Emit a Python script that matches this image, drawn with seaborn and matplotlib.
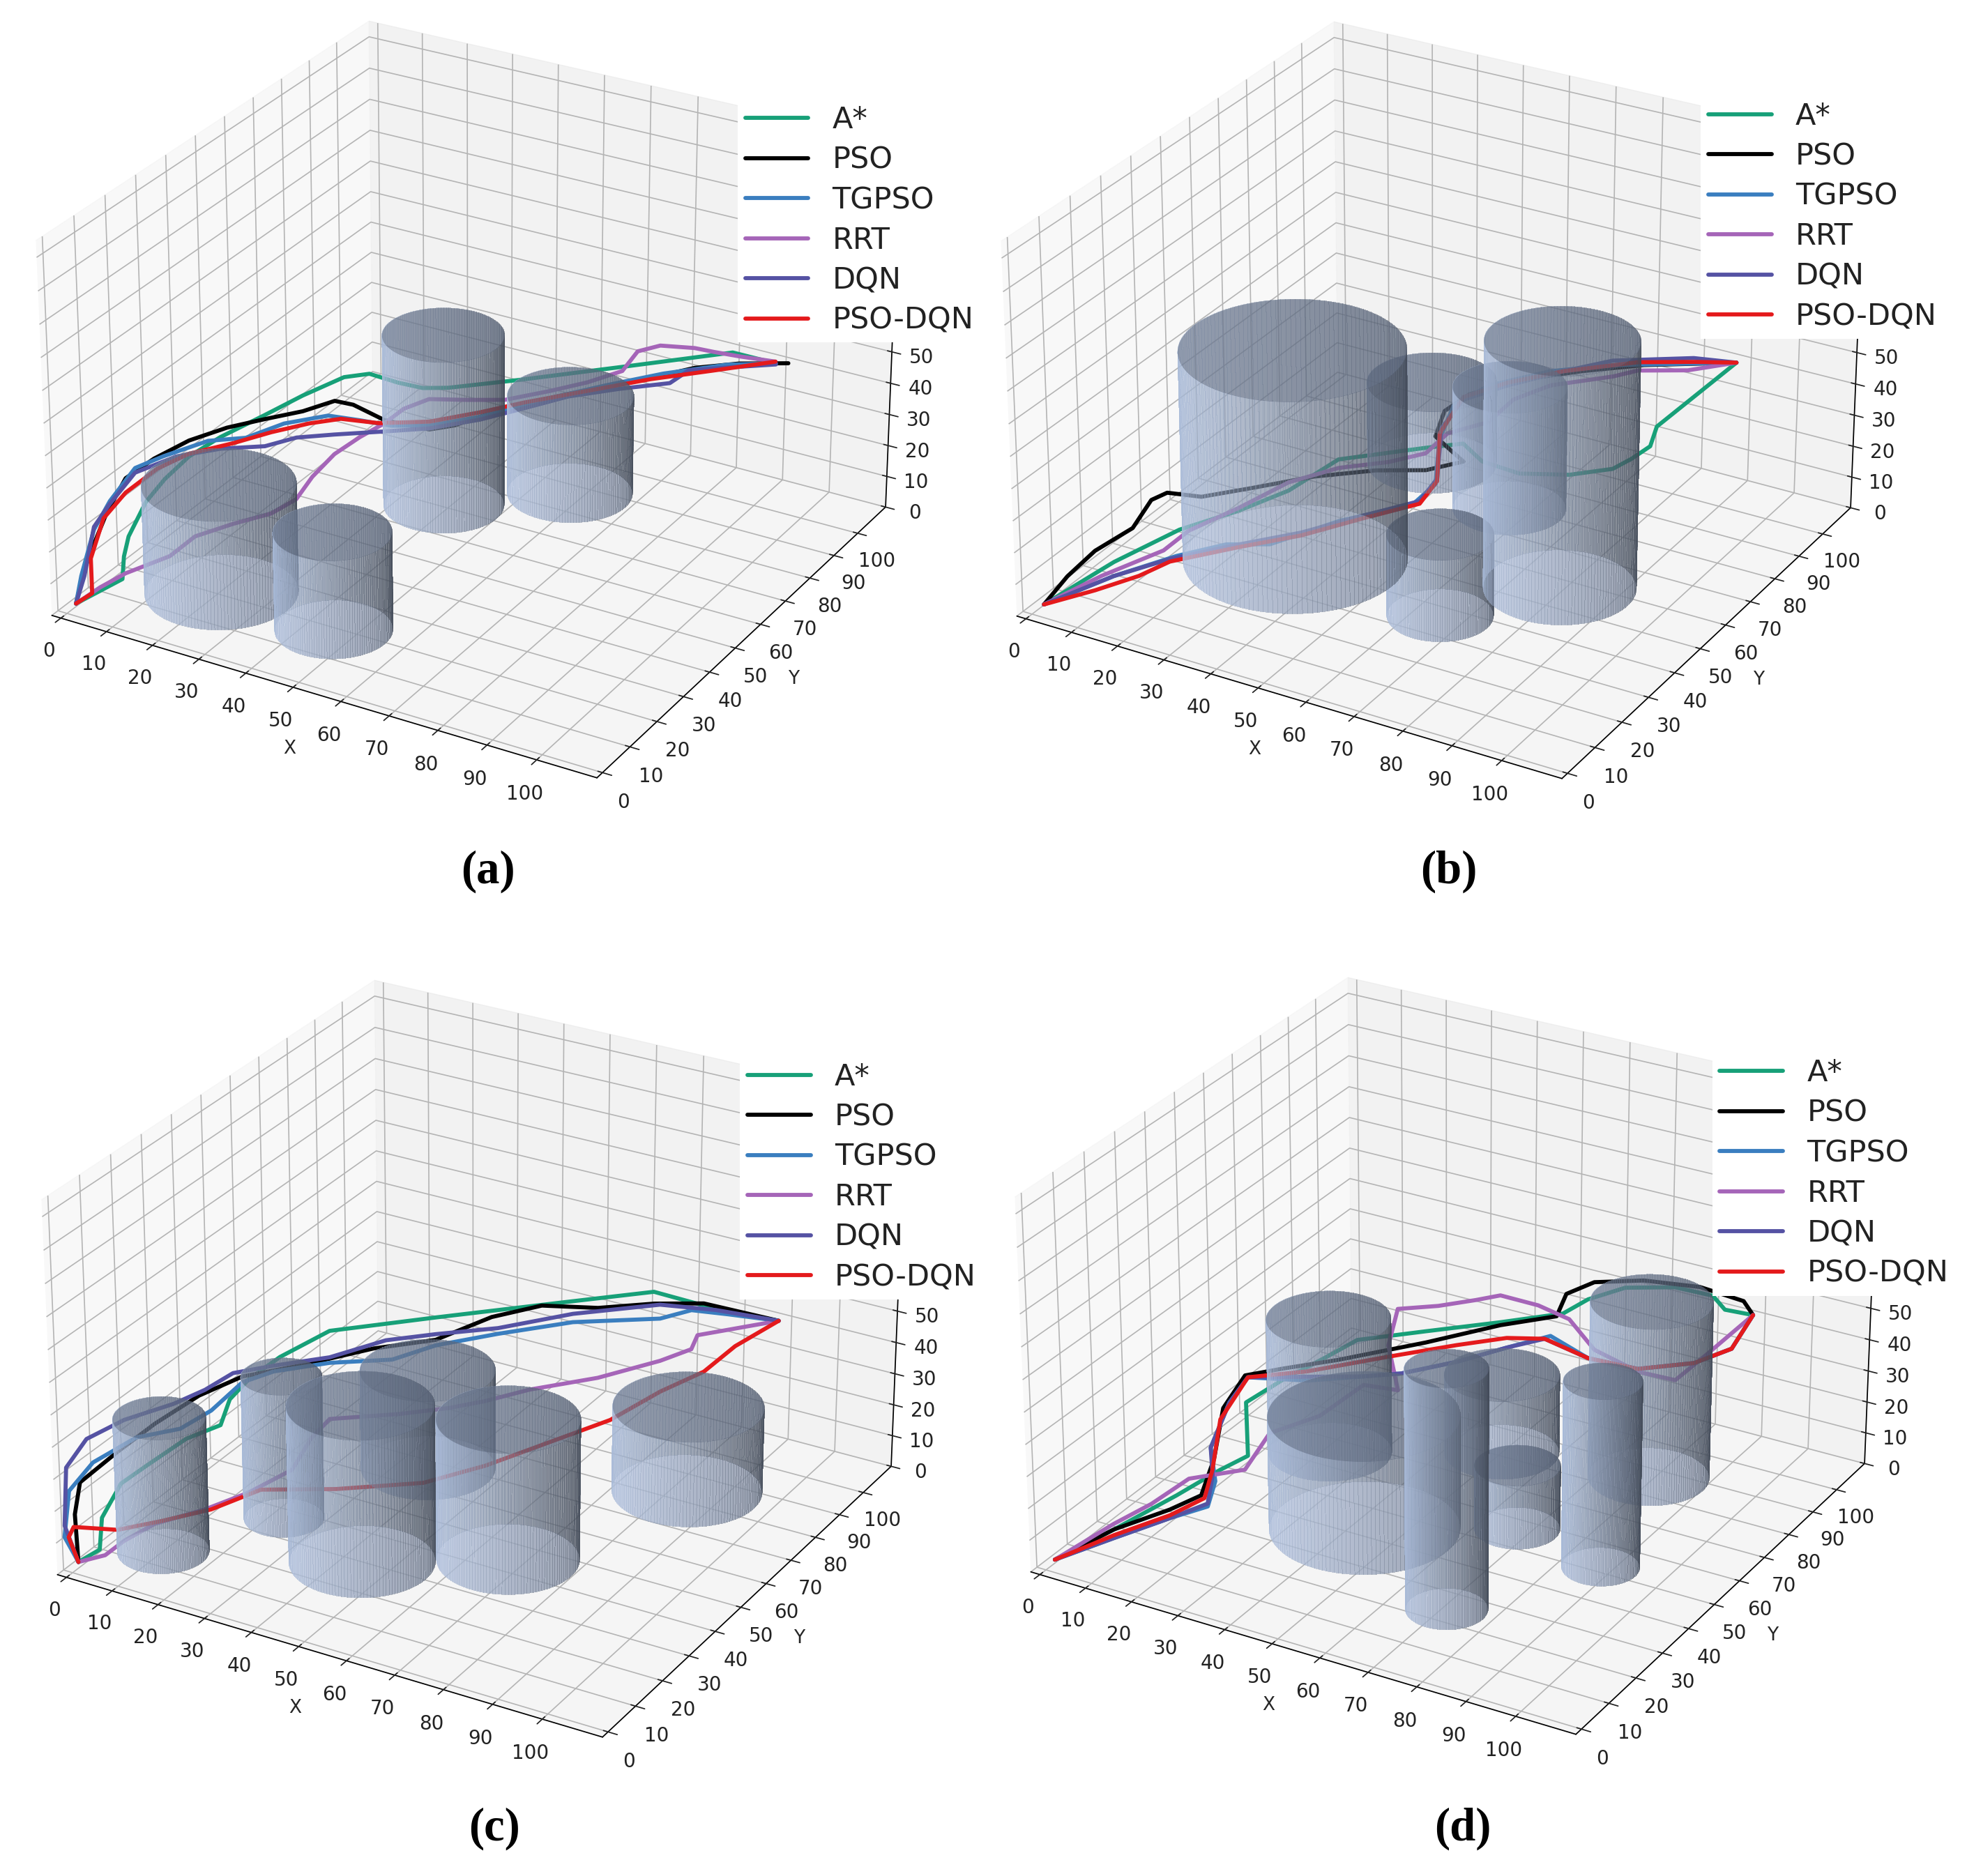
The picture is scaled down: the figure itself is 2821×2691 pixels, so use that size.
import matplotlib
matplotlib.use("Agg")
import numpy as np
import matplotlib.pyplot as plt
import seaborn as sns
from matplotlib.colors import to_rgb
from mpl_toolkits.mplot3d.art3d import Poly3DCollection

# ---------- data ----------
METHODS = ['A*', 'PSO', 'TGPSO', 'RRT', 'DQN', 'PSO-DQN']
XTICKS = list(range(0, 101, 10))
ZTICKS = list(range(0, 111, 10))
CAPTIONS = ['(a)', '(b)', '(c)', '(d)']

a_cyl_x = [20.2, 45.4, 38.6, 57.1]
a_cyl_y = [21.0, 19.5, 70.9, 87.0]
a_cyl_r = [14.2, 10.8, 11.5, 12.0]
a_cyl_h = [34.0, 30.5, 54.5, 31.5]
b_cyl_x = [30.8, 33.8, 65.0, 55.7, 78.9]
b_cyl_y = [42.2, 88.0, 37.1, 79.5, 57.3]
b_cyl_r = [21.0, 12.5, 9.8, 10.8, 14.2]
b_cyl_h = [66.0, 26.5, 25.5, 39.0, 77.0]
c_cyl_x = [10.0, 22.6, 43.8, 35.9, 66.6, 82.8]
c_cyl_y = [15.1, 37.0, 30.2, 67.5, 44.4, 84.1]
c_cyl_r = [8.5, 7.5, 13.5, 12.8, 13.2, 14.2]
c_cyl_h = [42.0, 45.0, 49.0, 31.5, 44.0, 27.0]
d_cyl_x = [21.4, 42.4, 70.8, 49.8, 67.1, 87.5, 78.8]
d_cyl_y = [65.2, 43.0, 24.4, 81.6, 56.9, 51.9, 86.9]
d_cyl_r = [11.8, 17.8, 7.5, 11.0, 8.0, 7.2, 11.5]
d_cyl_h = [43.0, 35.5, 74.0, 25.0, 20.0, 58.0, 56.0]

a_astar_x = [1.4,5.7,1.2,1.1,1.3,1.5,1.2,1.4,1.1,3.1,8.0,12.2,20.2,26.9,31.7,44.9,64.2,82.7,93.6]
a_astar_y = [1.0,10.0,17.3,19.2,25.0,31.2,40.0,50.7,66.9,77.5,84.9,87.5,84.8,83.0,84.4,88.3,95.5,103.9,100.4]
a_astar_z = [3,6,6,11,18,21,22,21,17,17,20,21,23,25,26,31,38,44,47]
a_pso_x = [1.4,1.1,1.3,1.5,1.3,1.6,1.2,1.1,1.3,6.6,11.0,15.6,25.5,36.7,40.6,47.3,57.3,67.8,77.7,85.9,95.6]
a_pso_y = [1.0,4.4,7.6,11.8,18.6,27.7,40.2,53.5,66.5,71.9,76.5,75.8,71.1,68.8,71.5,79.1,85.8,91.5,98.1,100.4,101.6]
a_pso_z = [3,11,17,24,30,30,27,22,16,17,19,20,22,25,26,29,33,37,41,44,47]
a_tgpso_x = [1.4,1.2,1.0,1.6,1.3,1.2,1.6,1.6,5.5,13.1,20.7,28.4,35.9,44.3,53.7,63.6,73.1,84.1,93.6]
a_tgpso_y = [1.0,3.3,8.2,12.8,21.8,31.5,46.1,59.2,66.8,70.6,69.8,68.7,70.2,74.8,82.5,89.1,94.2,98.8,100.4]
a_tgpso_z = [3,10,21,27,31,28,23,15,16,19,21,23,25,28,32,36,40,44,47]
a_rrt_x = [1.4,3.2,5.0,10.5,11.1,16.6,21.9,24.3,22.9,22.4,24.3,26.1,27.5,30.3,38.7,46.2,53.6,59.3,64.0,63.2,67.0,74.4,78.9,85.1,93.2]
a_rrt_y = [1.0,6.3,12.1,18.7,26.4,31.0,35.9,40.9,48.9,57.7,63.9,70.1,74.8,79.6,79.6,81.0,85.0,89.5,94.7,102.3,104.3,104.3,103.5,101.9,101.0]
a_rrt_z = [3,5,6,9,10,13,15,17,18,19,21,22,24,25,28,30,33,35,37,38,40,42,43,45,47]
a_dqn_x = [1.4,1.0,1.1,1.5,1.6,1.2,1.2,6.6,11.3,18.2,27.9,36.5,44.9,51.7,58.4,67.0,76.0,77.8,84.6,93.8]
a_dqn_y = [1.0,4.6,8.1,12.9,21.3,35.7,50.9,58.1,62.0,64.5,67.2,69.2,73.8,78.7,83.7,87.8,91.3,95.4,97.7,100.0]
a_dqn_z = [3,9,22,26,30,25,17,15,17,19,22,25,28,31,34,37,40,42,44,47]
a_psodqn_x = [1.4,2.5,1.1,1.5,1.6,1.5,1.3,1.4,4.6,11.0,16.6,25.1,35.1,43.4,50.5,61.0,71.5,82.5,93.2]
a_psodqn_y = [1.0,4.7,6.7,10.7,18.0,28.8,39.9,55.1,63.6,67.1,69.6,69.5,71.6,76.4,80.7,86.4,92.1,96.6,101.0]
a_psodqn_z = [3,4,13,23,26,26,23,16,15,18,20,22,25,28,31,35,39,43,47]

b_astar_x = [1.9,6.9,14.0,21.6,28.1,31.7,46.7,53.8,61.0,70.5,80.5,88.0,89.7,91.5,88.9,92.6]
b_astar_y = [1.2,17.1,28.6,37.3,44.5,56.6,63.4,65.1,59.6,56.7,57.6,60.3,64.4,68.2,75.7,100.5]
b_astar_z = [3,7,12,15,19,22,27,30,31,33,36,39,40,42,42,47]
b_pso_x = [1.9,1.1,1.5,4.1,1.8,3.5,11.3,19.6,29.9,41.3,51.2,57.4,52.5,46.6,42.9,44.8,52.0,63.0,74.4,92.6]
b_pso_y = [1.2,10.2,18.9,27.8,37.8,40.7,40.5,45.0,50.5,54.2,55.7,58.9,62.7,67.2,77.0,83.2,89.8,94.4,97.9,100.5]
b_pso_z = [3,5,7,9,10,11,13,16,20,24,27,30,29,28,28,30,33,37,41,47]
b_tgpso_x = [1.9,9.8,18.3,26.5,34.7,44.2,55.2,56.1,47.8,43.9,46.8,56.6,68.1,92.6]
b_tgpso_y = [1.2,12.6,20.8,25.1,27.1,35.8,44.2,50.8,66.6,78.8,87.0,93.7,97.2,100.5]
b_tgpso_z = [3,7,11,15,17,22,26,28,28,29,31,35,39,47]
b_rrt_x = [1.9,7.8,15.1,15.7,21.0,26.4,33.5,42.3,47.8,48.6,54.2,55.0,59.5,70.4,74.5,84.4,92.6]
b_rrt_y = [1.2,11.5,21.4,29.1,38.2,47.3,53.7,57.2,61.5,68.3,73.9,82.1,88.5,93.1,95.3,96.6,100.5]
b_rrt_z = [3,7,11,12,15,19,22,25,27,29,31,33,35,39,41,44,47]
b_dqn_x = [1.9,9.8,17.9,28.5,38.6,47.7,56.3,55.3,45.9,44.9,50.5,59.3,67.2,83.0,92.6]
b_dqn_y = [1.2,12.6,19.3,26.2,31.7,38.9,44.7,52.8,70.7,80.6,87.7,93.7,98.9,101.7,100.5]
b_dqn_z = [3,7,11,15,19,23,27,28,28,30,32,36,39,44,47]
b_psodqn_x = [1.9,9.1,15.1,18.4,29.0,39.2,48.2,56.8,55.8,46.7,44.4,49.9,59.3,72.9,83.8,92.6]
b_psodqn_y = [1.2,7.4,13.0,18.4,25.3,30.8,38.0,43.8,51.9,68.6,81.6,88.7,93.7,98.4,100.3,100.5]
b_psodqn_z = [3,6,9,11,15,19,23,27,28,28,30,32,36,41,44,47]

c_astar_x = [1.4,2.2,1.3,1.2,1.5,1.4,1.3,1.3,1.4,1.6,2.7,21.7,44.6,63.0,76.6,92.8]
c_astar_y = [0.0,5.8,8.2,14.9,23.8,36.7,48.7,52.1,58.7,69.6,86.1,94.7,103.1,106.9,104.1,100.8]
c_astar_z = [4,4,12,18,18,17,13,19,21,21,19,25,33,41,43,47]
c_pso_x = [1.4,1.1,1.4,1.5,1.4,1.7,1.1,3.9,16.0,26.5,33.6,41.5,53.9,64.2,74.2,92.8]
c_pso_y = [0.0,-0.1,1.5,13.8,26.5,41.0,57.0,72.6,80.6,86.4,95.7,101.4,101.3,104.8,106.1,100.8]
c_pso_z = [4,19,28,29,29,28,23,17,22,25,29,32,36,39,42,47]
c_tgpso_x = [1.4,1.5,1.5,1.3,1.4,1.7,1.4,1.0,1.0,9.8,22.2,27.7,38.2,51.4,68.8,73.5,81.6,92.8]
c_tgpso_y = [0.0,-4.2,-2.2,6.0,20.1,34.3,45.5,57.1,68.2,74.5,77.3,84.4,90.1,95.9,98.6,102.4,102.0,100.8]
c_tgpso_z = [4,15,28,31,29,22,20,21,17,19,23,25,29,34,40,42,44,47]
c_rrt_x = [1.4,4.9,5.6,8.3,15.3,20.8,24.4,22.3,21.9,34.7,43.5,50.0,56.1,67.9,77.1,81.1,79.4,92.8]
c_rrt_y = [0.0,3.6,8.8,15.1,21.3,27.8,37.3,47.4,54.8,58.7,62.2,64.9,70.8,75.8,83.2,88.0,93.7,100.8]
c_rrt_z = [4,5,6,8,11,14,16,18,19,23,26,29,31,36,40,42,42,47]
c_dqn_x = [1.4,1.2,1.7,1.6,1.3,1.5,1.4,1.6,1.1,8.6,16.3,25.3,37.0,49.7,66.0,78.1,92.8]
c_dqn_y = [0.0,-3.6,-3.1,3.8,16.5,32.7,43.5,53.0,68.1,76.5,84.8,88.5,92.2,99.0,103.8,103.6,100.8]
c_dqn_z = [4,18,36,40,37,31,28,27,19,19,22,25,29,34,40,43,47]
c_psodqn_x = [1.4,1.5,1.5,1.6,8.7,16.3,22.2,37.3,53.7,62.7,70.0,78.0,83.0,87.4,88.8,92.8]
c_psodqn_y = [0.0,-2.9,-1.2,12.7,16.5,21.9,29.9,31.9,35.7,42.9,53.0,62.2,72.3,81.1,90.9,100.8]
c_psodqn_z = [4,14,16,5,8,11,14,19,25,29,32,36,40,42,44,47]

d_astar_x = [1.3,7.1,12.7,15.7,18.6,6.9,9.4,13.7,16.5,28.7,42.5,53.6,56.1,62.4,73.0,80.9,85.6,92.4]
d_astar_y = [1.1,12.1,24.8,35.1,40.4,58.4,67.7,76.7,83.7,89.0,93.9,98.5,103.9,107.2,107.4,107.8,103.7,102.0]
d_astar_z = [3,7,11,13,15,15,17,20,22,26,31,35,37,41,45,45,45,47]
d_pso_x = [1.3,7.1,13.9,17.3,12.4,3.7,1.5,6.9,17.0,31.1,43.1,53.1,50.1,55.5,66.5,78.3,87.6,92.4]
d_pso_y = [1.1,12.1,20.6,26.1,38.3,55.3,66.7,71.6,75.8,84.9,92.8,96.9,106.2,107.5,107.0,107.5,107.5,102.0]
d_pso_z = [3,7,10,12,13,14,16,17,21,26,31,35,35,40,45,47,46,47]
d_tgpso_x = [1.3,8.9,15.7,21.3,17.3,9.5,3.5,1.7,15.0,25.4,32.9,41.6,48.8,55.5,67.9,79.9,89.6,94.7,92.4]
d_tgpso_y = [1.1,9.4,17.9,22.1,31.0,41.7,57.8,67.4,67.6,71.2,72.5,78.7,85.2,90.2,82.3,79.7,83.6,88.8,102.0]
d_tgpso_z = [3,7,10,13,13,13,14,15,19,22,25,28,31,34,37,40,43,46,47]
d_rrt_x = [1.3,5.9,9.1,11.2,21.0,18.7,25.2,27.2,35.9,24.2,18.5,26.0,33.0,36.8,46.5,55.8,67.3,80.5,89.2,90.6,92.4]
d_rrt_y = [1.1,13.8,21.7,31.4,35.5,48.0,55.4,68.2,66.3,82.5,95.7,98.5,100.9,103.9,101.5,97.0,85.9,78.7,76.9,86.6,102.0]
d_rrt_z = [3,7,9,11,15,17,20,22,25,24,25,27,30,31,33,35,37,40,42,44,47]
d_dqn_x = [1.3,8.9,15.7,20.7,15.7,9.5,3.5,1.7,14.2,25.4,32.9,41.6,48.8,55.1,67.9,79.9,89.6,94.7,92.4]
d_dqn_y = [1.1,9.4,17.9,23.0,32.6,41.7,57.8,67.4,69.0,71.2,72.5,78.7,85.2,88.6,82.3,79.7,83.6,88.8,102.0]
d_dqn_z = [3,7,10,13,13,13,14,15,19,22,25,28,31,34,37,40,43,46,47]
d_psodqn_x = [1.3,8.3,15.1,18.4,14.5,5.0,1.7,13.0,26.6,38.1,46.8,55.1,67.9,79.9,89.6,94.7,92.4]
d_psodqn_y = [1.1,10.3,18.8,25.5,34.4,52.2,67.4,70.9,78.4,84.7,88.7,88.6,82.3,79.7,83.6,88.8,102.0]
d_psodqn_z = [3,7,10,12,13,13,15,19,24,28,31,34,37,40,43,46,47]

panels = [
    dict(cyl=(a_cyl_x, a_cyl_y, a_cyl_r, a_cyl_h),
         paths=[(a_astar_x, a_astar_y, a_astar_z), (a_pso_x, a_pso_y, a_pso_z), (a_tgpso_x, a_tgpso_y, a_tgpso_z),
                (a_rrt_x, a_rrt_y, a_rrt_z), (a_dqn_x, a_dqn_y, a_dqn_z), (a_psodqn_x, a_psodqn_y, a_psodqn_z)]),
    dict(cyl=(b_cyl_x, b_cyl_y, b_cyl_r, b_cyl_h),
         paths=[(b_astar_x, b_astar_y, b_astar_z), (b_pso_x, b_pso_y, b_pso_z), (b_tgpso_x, b_tgpso_y, b_tgpso_z),
                (b_rrt_x, b_rrt_y, b_rrt_z), (b_dqn_x, b_dqn_y, b_dqn_z), (b_psodqn_x, b_psodqn_y, b_psodqn_z)]),
    dict(cyl=(c_cyl_x, c_cyl_y, c_cyl_r, c_cyl_h),
         paths=[(c_astar_x, c_astar_y, c_astar_z), (c_pso_x, c_pso_y, c_pso_z), (c_tgpso_x, c_tgpso_y, c_tgpso_z),
                (c_rrt_x, c_rrt_y, c_rrt_z), (c_dqn_x, c_dqn_y, c_dqn_z), (c_psodqn_x, c_psodqn_y, c_psodqn_z)]),
    dict(cyl=(d_cyl_x, d_cyl_y, d_cyl_r, d_cyl_h),
         paths=[(d_astar_x, d_astar_y, d_astar_z), (d_pso_x, d_pso_y, d_pso_z), (d_tgpso_x, d_tgpso_y, d_tgpso_z),
                (d_rrt_x, d_rrt_y, d_rrt_z), (d_dqn_x, d_dqn_y, d_dqn_z), (d_psodqn_x, d_psodqn_y, d_psodqn_z)]),
]

# ---------- style ----------
sns.set_theme(style="white", rc={"grid.color": "#b4b4b4", "grid.linewidth": 1.2, "axes.edgecolor": "black",
                                 "text.color": "#222222", "xtick.color": "#222222", "ytick.color": "#222222"})
plt.rcParams['font.family'] = ['DejaVu Sans']
palette = sns.color_palette(['#17a078', '#000000', '#3a7ebf', '#a565b8', '#5552a3', '#e41a1c'])
W, H = 2821, 2691
fig = plt.figure(figsize=(W / 100, H / 100), dpi=100)
centers = [(665, 562), (2049, 563), (673, 1938), (2069, 1934)]
SIDE = 1380
legend_pos = [(588, 78), (1356, 75), (590, 841), (1365, 838)]
caption_pos = [(389, 695), (1155, 695), (394, 1458), (1166, 1458)]
light = np.array(to_rgb('#a8bad8'))
dark = np.array(to_rgb('#424a58'))


def cylinder(ax, x, y, r, h):
    th = np.linspace(0, 2 * np.pi, 145)
    T, Z = np.meshgrid(th, [0, h])
    t = (np.cos(th[:-1] + np.pi / 144 - np.radians(30)) + 1) / 2
    fc = np.zeros((1, 144, 4))
    fc[0, :, :3] = light[None] * (1 - t[:, None]) + dark[None] * t[:, None]
    fc[..., 3] = .42
    ax.plot_surface(x + r * np.cos(T), y + r * np.sin(T), Z, facecolors=fc, shade=False,
                    linewidth=0, antialiased=False, rstride=1, cstride=1)
    ring = list(zip(x + r * np.cos(th), y + r * np.sin(th)))
    ax.add_collection3d(Poly3DCollection([[(a, b, 0) for a, b in ring]], facecolors=[(*to_rgb('#c8d5ee'), .6), ], edgecolors='none'))
    ax.add_collection3d(Poly3DCollection([[(a, b, h) for a, b in ring]], facecolors=[(*to_rgb('#5b677d'), .55), ], edgecolors='none'))


for panel, c, lp, cap, cp in zip(panels, centers, legend_pos, CAPTIONS, caption_pos):
    ax = fig.add_axes([(c[0] - SIDE / 2) / W, 1 - (c[1] + SIDE / 2) / H, SIDE / W, SIDE / H], projection='3d')
    ax.patch.set_alpha(0)
    ax.set_xlim(-2, 112); ax.set_ylim(-2, 112); ax.set_zlim(0, 115)
    ax.set_box_aspect((4, 4, 2.67), zoom=0.98)
    ax.set_xticks(XTICKS); ax.set_yticks(XTICKS); ax.set_zticks(ZTICKS)
    ax.tick_params(labelsize=20, pad=11)
    ax.set_xlabel('X', fontsize=19, labelpad=22); ax.set_ylabel('Y', fontsize=19, labelpad=22)
    ax.view_init(27, -60)
    for x, y, r, h in zip(*panel['cyl']):
        cylinder(ax, x, y, r, h)
    for name, col, (px, py, pz) in zip(METHODS, palette, panel['paths']):
        ax.plot(px, py, pz, color=col, lw=4.2, label=name, solid_joinstyle='round', solid_capstyle='round')
    ax.legend(loc='upper left', bbox_to_anchor=(lp[0] * 1.799 / W, 1 - lp[1] * 1.799 / H), bbox_transform=fig.transFigure,
              fontsize=31, frameon=True, facecolor='white', edgecolor='none', framealpha=1, fancybox=False,
              borderaxespad=0, borderpad=.25, labelspacing=.36, handlelength=2.1, handletextpad=.8)
    fig.text(cp[0] * 1.799 / W, 1 - cp[1] * 1.799 / H, cap, family='Liberation Serif', weight='bold', fontsize=48,
             ha='center', va='center', color='black')
fig.savefig('out.png', dpi=100)
